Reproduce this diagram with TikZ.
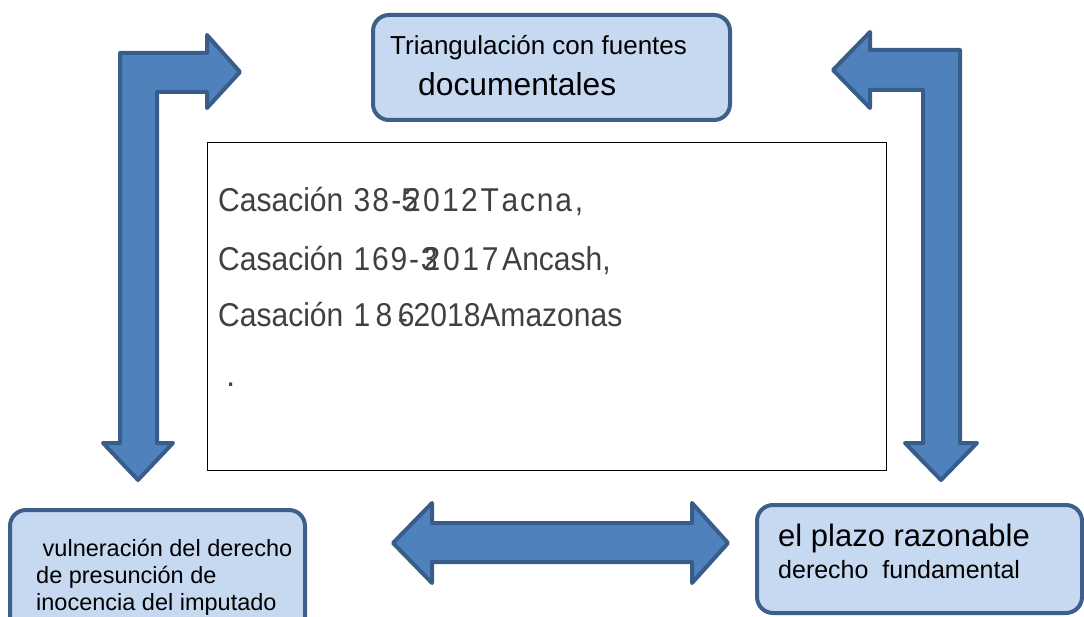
\documentclass[tikz,border=0pt]{standalone}
\usepackage{fontspec}
\setmainfont{Liberation Sans}
\definecolor{boxfill}{HTML}{C6D9F1}
\definecolor{boxline}{HTML}{3D5F8A}
\definecolor{arrowfill}{HTML}{4F81BD}
\definecolor{arrowline}{HTML}{385D8A}
\definecolor{casegray}{HTML}{404040}
\newcommand{\narrow}[1]{\scalebox{0.91}[1]{#1}}
\tikzset{
  bluebox/.style={draw=boxline, fill=boxfill, line width=4pt, rounded corners=16pt},
  blockarrow/.style={draw=arrowline, fill=arrowfill, line width=4pt, line join=round},
  boxtext/.style={inner sep=0pt, anchor=base west, text=black},
  casetext/.style={inner sep=0pt, anchor=base west, text=casegray, font=\fontsize{33}{40}\selectfont},
}

\begin{document}
\begin{tikzpicture}[x=1pt,y=-1pt]
\clip (0,0) rectangle (1084,617);

% bent arrow on the left
\draw[blockarrow] (240,72) -- (207,35) -- (207,53) -- (120,53) -- (120,443) -- (103,443)
  -- (138,480) -- (173,443) -- (157,443) -- (157,92) -- (207,92) -- (207,108) -- cycle;
% bent arrow on the right
\draw[blockarrow] (833,70) -- (870,32) -- (870,50) -- (960,50) -- (960,443) -- (977,443)
  -- (941,480) -- (905,443) -- (923,443) -- (923,90) -- (870,90) -- (870,108) -- cycle;
% arrow between the bottom boxes
\draw[blockarrow] (393,543) -- (432,503) -- (432,523) -- (692,523) -- (692,503) -- (728,543)
  -- (692,583) -- (692,562) -- (432,562) -- (432,583) -- cycle;

% boxes
\draw[bluebox] (373,15) rectangle (730,120);
\node[boxtext, font=\fontsize{26}{31}\selectfont] (fuentes) at (390,55) {Triangulación con fuentes};
\node[boxtext, font=\fontsize{31.8}{37}\selectfont] (docs) at (418,96) {documentales};

\draw[bluebox] (10,510) rectangle (305,640);
\node[boxtext, font=\fontsize{23.5}{27}\selectfont, align=left, anchor=north west] (inocencia) at (36,539)
  {\ vulneración del derecho\\de presunción de\\inocencia del imputado};

\draw[bluebox] (757,505) rectangle (1082,613);
\node[boxtext, font=\fontsize{31}{36}\selectfont] (plazo) at (778,546) {el plazo razonable};
\node[boxtext, font=\fontsize{25}{30}\selectfont] (derecho) at (778,578) {derecho\ \ fundamental};

% cases
\draw[black, line width=1pt] (207,143) rectangle (886,470);
\node[casetext] (caso1) at (218,212) {\narrow{Casación\hspace{2pt} 3\hspace{2.5pt}8\hspace{2.5pt}-\rlap{5}\hspace{3pt}2\hspace{2.5pt}0\hspace{2.5pt}1\hspace{2.5pt}2\hspace{3pt}T\hspace{3pt}a\hspace{2pt}c\hspace{2pt}n\hspace{2pt}a\hspace{3pt},}};
\node[casetext] (caso2) at (218,271) {\narrow{Casación\hspace{2pt} 1\hspace{2pt}6\hspace{2pt}9\hspace{2pt}-\hspace{2pt}\rlap{3}\hspace{3pt}2\hspace{3pt}0\hspace{3pt}1\hspace{3pt}7\hspace{4pt}Ancash,}};
\node[casetext] (caso3) at (218,327) {\narrow{Casación\hspace{2pt} 1\hspace{6pt}8\hspace{6pt}\rlap{\raisebox{-3pt}{-}}6\hspace{-1pt}2018Amazonas}};
\node[casetext] (punto) at (226,386) {.};
\end{tikzpicture}
\end{document}
